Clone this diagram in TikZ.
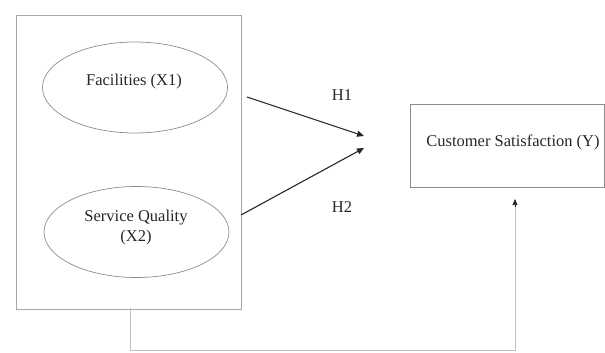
\documentclass[tikz,border=0pt]{standalone}
\usepackage{fontspec}
\setmainfont{Liberation Serif}
\usetikzlibrary{arrows.meta,shapes.geometric}
\begin{document}
\begin{tikzpicture}[x=1pt,y=-1pt,
  frame/.style={draw=black!35,line width=0.7pt,minimum width=225pt,minimum height=294pt,inner sep=0pt},
  oval/.style={draw=black!45,line width=0.7pt,ellipse,minimum width=185pt,minimum height=91pt,inner sep=0pt},
  target/.style={draw=black!45,line width=0.7pt,minimum width=194pt,minimum height=83pt,inner sep=0pt},
  txt/.style={font=\fontsize{16.5}{20}\selectfont,text=black!85,align=center,inner sep=0pt},
  hyp/.style={-{Triangle[length=7pt,width=6pt]},line width=1.1pt,black!85},
  link/.style={draw=black!25,line width=0.8pt}]
\useasboundingbox (0,0) rectangle (605,353);
\node[frame] (outer) at (128.5,162) {};
\node[oval] (x1) at (135,87.5) {};
\node[oval] (x2) at (136.5,232) {};
\node[txt] (x1t) at (134,82) {Facilities (X1)};
\node[txt] (x2t) at (136,228) {Service Quality\\(X2)};
\node[target] (y) at (507,145.5) {};
\node[txt] (ytext) at (513,142) {Customer Satisfaction (Y)};
\coordinate (h1s) at (247,97);
\coordinate (h1e) at (364,136);
\coordinate (h2s) at (241,215);
\coordinate (h2e) at (364,148);
\draw[hyp] (h1s) -- (h1e);
\draw[hyp] (h2s) -- (h2e);
\node[txt] (lh1) at (342,95) {H1};
\node[txt] (lh2) at (342,207) {H2};
\coordinate (c1) at (130,308);
\coordinate (c2) at (130,350);
\coordinate (c3) at (515,350);
\coordinate (c4) at (515,199);
\coordinate (c5) at (515,207);
\draw[link] (c1) -- (c2) -- (c3) -- (c5);
\draw[-{Triangle[length=6pt,width=5pt]},black!85,line width=0.6pt] (c5) -- (c4);
\end{tikzpicture}
\end{document}
